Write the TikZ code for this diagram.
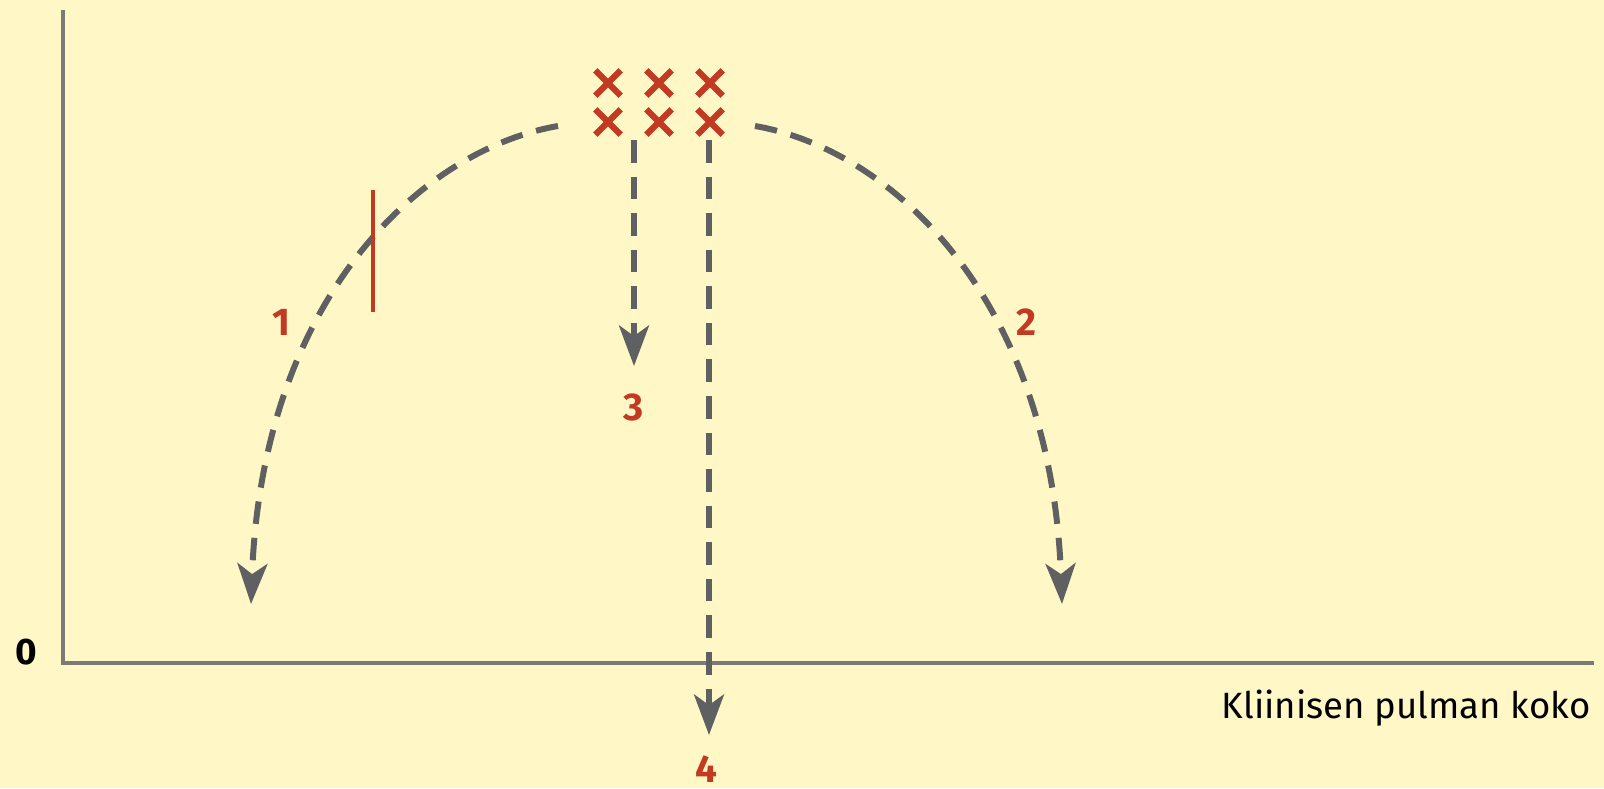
\documentclass[tikz,border=0pt]{standalone}
\usepackage{fontspec}
\setmainfont{Fira Sans}
\usetikzlibrary{shapes.misc,arrows.meta,positioning}
\definecolor{bgyellow}{HTML}{FFF7C6}
\definecolor{markred}{HTML}{C23A22}
\definecolor{arcgray}{HTML}{5E6062}
\definecolor{axisgray}{HTML}{7A7A76}
\tikzset{
  axis/.style = {draw=axisgray, line width=0.9pt},
  dashpath/.style = {draw=arcgray, line width=1.7pt, dash pattern=on 6.4pt off 4pt,
                 -{Stealth[length=11.5pt, width=8.5pt, inset=3pt]}},
  xmark/.style = {cross out, draw=markred, line width=1.8pt, minimum size=0.19cm, inner sep=0pt},
  num/.style = {text=markred, font=\bfseries\fontsize{11}{13}\selectfont, inner sep=0pt},
  lbl/.style = {font=\fontsize{10.4}{13}\selectfont, inner sep=0pt}
}
\begin{document}
\begin{tikzpicture}[x=0.01cm, y=-0.01cm]
  \useasboundingbox[fill=bgyellow] (0,0) rectangle (1604,788);
  % axes
  \coordinate (o) at (63,663);
  \coordinate (ytop) at (63,10);
  \coordinate (xend) at (1594,663);
  \draw[axis] (ytop) -- (o) -- (xend);
  \node[lbl, font=\bfseries\fontsize{10.5}{13}\selectfont] (zero) at (26,652) {0};
  \node[lbl, anchor=east] (xlabel) at (1591,708) {Kliinisen pulman koko};
  % crosses
  \foreach \i/\x in {1/608, 2/659, 3/710} {
    \node[xmark] (a\i) at (\x,83) {};
    \node[xmark] (b\i) at (\x,122) {};
  }
  % arcs
  \coordinate (ls) at (558,126);
  \coordinate (le) at (251,604);
  \coordinate (rs) at (755,126);
  \coordinate (re) at (1062,604);
  \draw[dashpath] (ls) .. controls (420,150) and (262,300) .. (le);
  \draw[dashpath] (rs) .. controls (893,150) and (1051,300) .. (re);
  % straight arrows
  \coordinate (ts) at (634,140);
  \coordinate (te) at (634,366);
  \coordinate (fs) at (709,140);
  \coordinate (fe) at (709,735);
  \draw[dashpath] (ts) -- (te);
  \draw[dashpath] (fs) -- (fe);
  % threshold
  \coordinate (cut1) at (373,190);
  \coordinate (cut2) at (373,312);
  \draw[draw=markred, line width=0.9pt] (cut1) -- (cut2);
  % labels
  \node[num] (n1) at (281,322) {1};
  \node[num] (n2) at (1026,322) {2};
  \node[num] (n3) at (634,407) {3};
  \node[num] (n4) at (706,769) {4};
\end{tikzpicture}
\end{document}
